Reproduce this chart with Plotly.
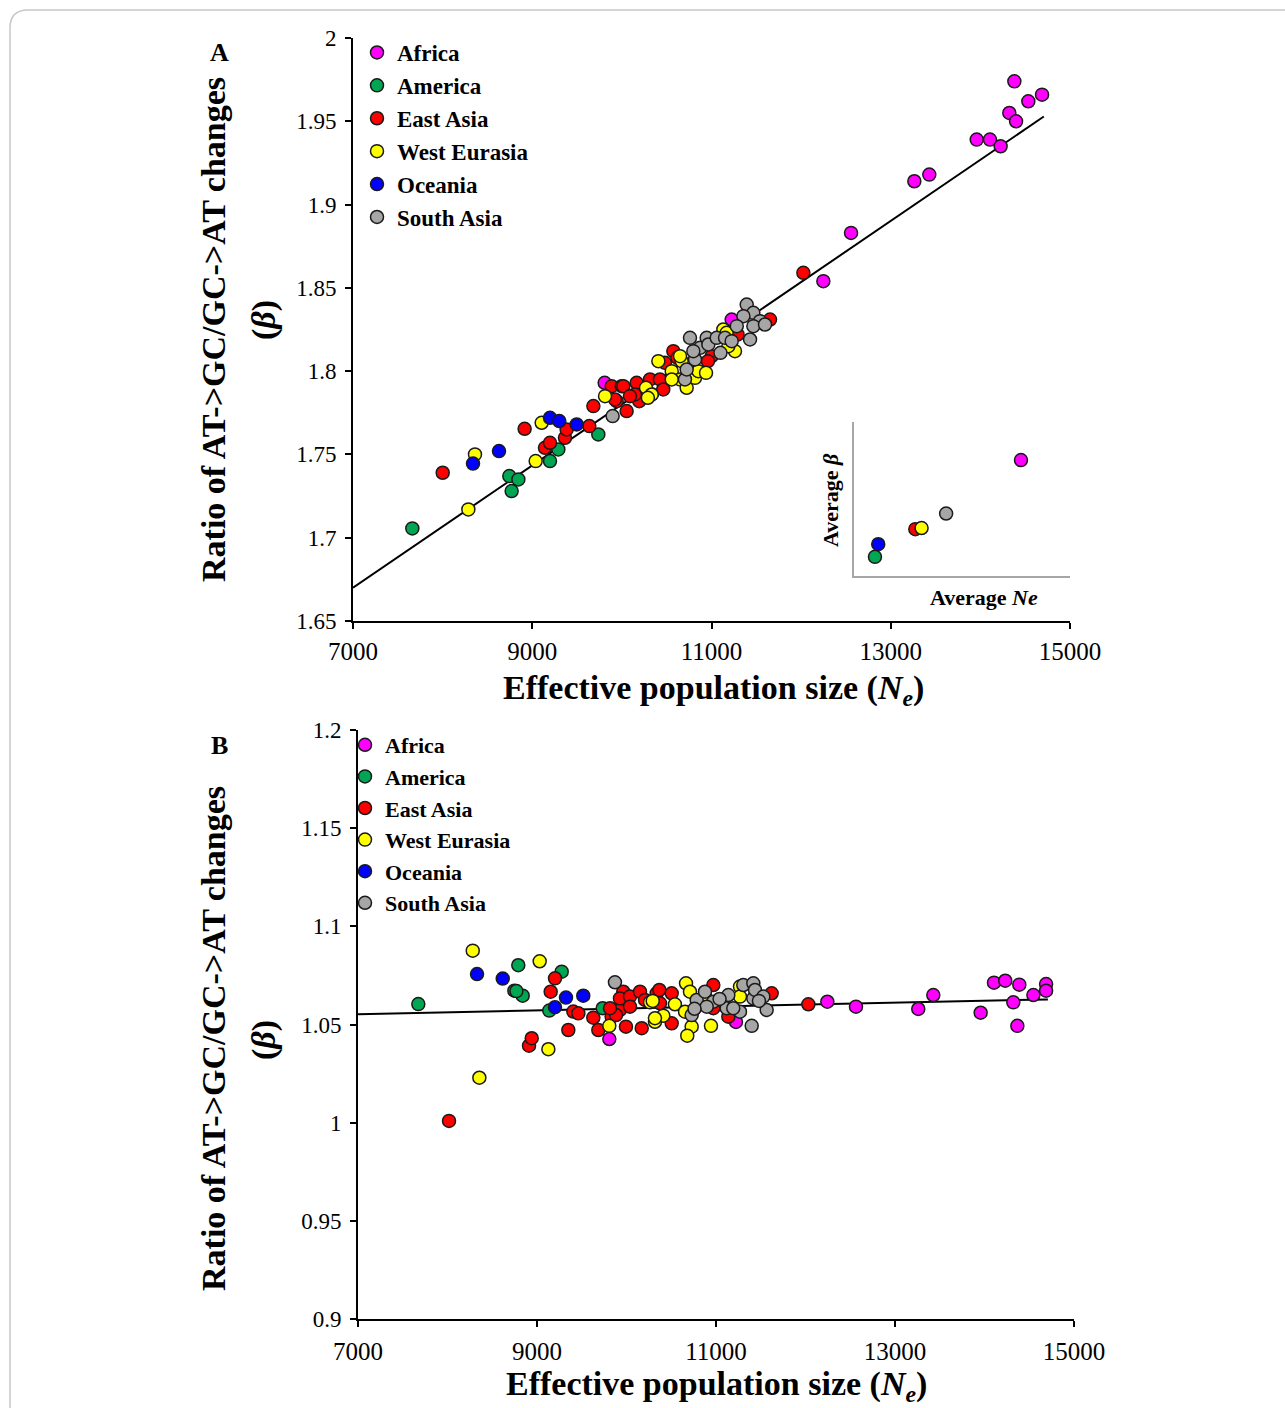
import numpy as np
import plotly.graph_objects as go

W, H = 1285, 1408

regions = ["Africa", "America", "East Asia", "West Eurasia", "Oceania", "South Asia"]
region_colors = ["#FF00FF", "#00A651", "#FF0000", "#FFFF00", "#0000FF", "#A6A6A6"]

# ---------------- Panel A: beta vs Ne ----------------
africa_ne_a = [14379, 14535, 14688, 14323, 14398, 13959, 14107, 14226, 13263, 13430, 12557, 12248, 9808, 11225]
africa_beta_a = [1.974, 1.962, 1.966, 1.955, 1.950, 1.939, 1.939, 1.935, 1.914, 1.918, 1.883, 1.854, 1.793, 1.831]

america_ne_a = [7662, 8744, 8845, 8770, 9198, 9291, 9737]
america_beta_a = [1.7056, 1.737, 1.735, 1.728, 1.746, 1.753, 1.762]

eastasia_ne_a = [8001, 8915, 9142, 9198, 9365, 9384, 9637, 9682, 9886, 9998, 9942, 10053, 10165, 10194, 10016,
                 10146, 10333, 10314, 10425, 10462, 10574, 10481, 11002, 11653, 12025, 9923, 10090, 10620, 11290, 10960]
eastasia_beta_a = [1.739, 1.7654, 1.754, 1.757, 1.760, 1.765, 1.767, 1.779, 1.791, 1.791, 1.782, 1.776, 1.793, 1.782, 1.791,
                   1.786, 1.786, 1.795, 1.795, 1.789, 1.812, 1.805, 1.809, 1.831, 1.859, 1.783, 1.785, 1.808, 1.822, 1.806]

westeurasia_ne_a = [8287, 8361, 9038, 9105, 9812, 10269, 10333, 10407, 10556, 10667, 10649, 10556, 10723, 10816, 10853,
                    10939, 10649, 11132, 11262, 11188, 11169, 10290]
westeurasia_beta_a = [1.717, 1.750, 1.746, 1.769, 1.785, 1.790, 1.786, 1.806, 1.800, 1.806, 1.795, 1.795, 1.790, 1.796, 1.800,
                      1.799, 1.809, 1.825, 1.812, 1.815, 1.823, 1.784]

oceania_ne_a = [8339, 8629, 9198, 9302, 9496]
oceania_beta_a = [1.7445, 1.752, 1.772, 1.770, 1.768]

southasia_ne_a = [9897, 10704, 10723, 10760, 10872, 10946, 10816, 10797, 10965, 11058, 11151, 11225, 11430, 11393, 11467,
                  11541, 11356, 11282, 11467, 11597, 11100]
southasia_beta_a = [1.773, 1.795, 1.801, 1.820, 1.814, 1.820, 1.807, 1.812, 1.816, 1.820, 1.820, 1.818, 1.819, 1.840, 1.835,
                    1.830, 1.833, 1.827, 1.827, 1.828, 1.811]

trend_a_intercept = 1.4131
trend_a_slope = 3.67e-5

# ---------------- Panel B ----------------
africa_ne_b = [12244, 12564, 13260, 13428, 13957, 14106, 14232, 14389, 14322, 14367, 14546, 14688, 14688, 9808, 11223]
africa_beta_b = [1.0616, 1.0591, 1.0579, 1.0650, 1.0560, 1.0713, 1.0723, 1.0703, 1.0613, 1.0493, 1.0650, 1.0706, 1.0672, 1.0426, 1.0513]

america_ne_b = [7674, 8791, 8747, 8840, 8770, 9276, 9137, 9734]
america_beta_b = [1.0604, 1.0802, 1.0672, 1.0647, 1.0670, 1.0769, 1.0571, 1.0583]

eastasia_ne_b = [8017, 8911, 8941, 9153, 9201, 9406, 9462, 9350, 9629, 9685, 9834, 9927, 10002, 9964, 9994, 9927, 10039,
                 10151, 10207, 10337, 10170, 9883, 9816, 10039, 10367, 10505, 10374, 10505, 10970, 10970, 11138, 11622, 12032]
eastasia_beta_b = [1.0009, 1.0392, 1.0430, 1.0667, 1.0735, 1.0566, 1.0557, 1.0472, 1.0535, 1.0472, 1.0540, 1.0574, 1.0625,
                   1.0667, 1.0489, 1.0633, 1.0642, 1.0667, 1.0625, 1.0659, 1.0481, 1.0548, 1.0583, 1.0591, 1.0676, 1.0659,
                   1.0608, 1.0506, 1.0701, 1.0583, 1.0540, 1.0659, 1.0603]

westeurasia_ne_b = [8282, 8356, 9030, 9127, 9808, 10263, 10318, 10293, 10411, 10318, 10541, 10665, 10709, 10654, 10728,
                    10679, 10944, 11268, 11268, 10880]
westeurasia_beta_b = [1.0876, 1.0229, 1.0822, 1.0374, 1.0493, 1.0613, 1.0514, 1.0620, 1.0545, 1.0532, 1.0603, 1.0710,
                      1.0667, 1.0565, 1.0489, 1.0443, 1.0493, 1.0693, 1.0642, 1.0640]

oceania_ne_b = [8330, 8617, 9201, 9324, 9517]
oceania_beta_b = [1.0757, 1.0734, 1.0588, 1.0637, 1.0647]

southasia_ne_b = [9871, 10784, 10728, 10877, 10970, 10896, 11138, 11119, 11305, 11417, 11417, 11436, 11268, 11193, 11529,
                  11566, 11399, 10760, 11040, 11480]
southasia_beta_b = [1.0715, 1.0625, 1.0548, 1.0667, 1.0616, 1.0591, 1.0650, 1.0583, 1.0701, 1.0710, 1.0633, 1.0676,
                    1.0565, 1.0583, 1.0642, 1.0574, 1.0493, 1.0580, 1.0630, 1.0620]

trend_b_intercept = 1.0483
trend_b_slope = 9.85e-7

x_ticks = [7000, 9000, 11000, 13000, 15000]

panel_a = [(africa_ne_a, africa_beta_a), (america_ne_a, america_beta_a), (eastasia_ne_a, eastasia_beta_a),
           (westeurasia_ne_a, westeurasia_beta_a), (oceania_ne_a, oceania_beta_a), (southasia_ne_a, southasia_beta_a)]
panel_b = [(africa_ne_b, africa_beta_b), (america_ne_b, america_beta_b), (eastasia_ne_b, eastasia_beta_b),
           (westeurasia_ne_b, westeurasia_beta_b), (oceania_ne_b, oceania_beta_b), (southasia_ne_b, southasia_beta_b)]


def pxx(p):
    return p / W


def pxy(p):
    return 1 - p / H


SERIF = "Liberation Serif"
MARKER_LINE = dict(color="#1a1a1a", width=1.5)

fig = go.Figure()

# trend lines (from regression coefficients)
all_a = np.concatenate([np.array(n) for n, _ in panel_a])
xa = np.array([x_ticks[0], all_a.max() + 20])
fig.add_trace(go.Scatter(x=xa, y=trend_a_intercept + trend_a_slope * xa, mode="lines",
                         line=dict(color="black", width=2), showlegend=False, xaxis="x", yaxis="y",
                         hoverinfo="skip"))
all_b = np.concatenate([np.array(n) for n, _ in panel_b])
xb = np.array([x_ticks[0], all_b.max() + 20])
fig.add_trace(go.Scatter(x=xb, y=trend_b_intercept + trend_b_slope * xb, mode="lines",
                         line=dict(color="black", width=2), showlegend=False, xaxis="x2", yaxis="y2",
                         hoverinfo="skip"))

for name, col, (ne, be) in zip(regions, region_colors, panel_a):
    fig.add_trace(go.Scatter(x=ne, y=be, mode="markers", name=name, legend="legend",
                             marker=dict(size=13, color=col, line=MARKER_LINE), xaxis="x", yaxis="y"))

for name, col, (ne, be) in zip(regions, region_colors, panel_b):
    fig.add_trace(go.Scatter(x=ne, y=be, mode="markers", name=name, legend="legend2",
                             marker=dict(size=13, color=col, line=MARKER_LINE), xaxis="x2", yaxis="y2"))

# inset: region averages of panel A
for name, col, (ne, be) in zip(regions, region_colors, panel_a):
    fig.add_trace(go.Scatter(x=[np.mean(ne)], y=[np.mean(be)], mode="markers", showlegend=False,
                             marker=dict(size=13, color=col, line=MARKER_LINE), xaxis="x3", yaxis="y3"))

axis_common = dict(showline=True, linecolor="black", linewidth=2, ticks="outside", ticklen=6, tickwidth=2,
                   tickcolor="black", showgrid=False, zeroline=False, automargin=False)
xtick_font = dict(family=SERIF, size=25, color="black")
ytick_font = dict(family=SERIF, size=23, color="black")

fig.update_layout(
    width=W, height=H, margin=dict(l=0, r=0, t=0, b=0, autoexpand=False),
    paper_bgcolor="white", plot_bgcolor="rgba(0,0,0,0)",
    xaxis=dict(domain=[pxx(353), pxx(1070)], anchor="y", range=[7000, 15000], tickvals=x_ticks,
               tickformat="d", ticklabelstandoff=1, tickfont=xtick_font, **axis_common),
    yaxis=dict(domain=[pxy(621), pxy(38)], anchor="x", range=[1.65, 2.0], dtick=0.05,
               ticklabelstandoff=4, tickfont=ytick_font, **axis_common),
    xaxis2=dict(domain=[pxx(358), pxx(1074)], anchor="y2", range=[7000, 15000], tickvals=x_ticks,
                tickformat="d", ticklabelstandoff=3, tickfont=xtick_font, **axis_common),
    yaxis2=dict(domain=[pxy(1319), pxy(730)], anchor="x2", range=[0.9, 1.2], dtick=0.05,
                ticklabelstandoff=4, tickfont=ytick_font, **axis_common),
    xaxis3=dict(domain=[pxx(854), pxx(1070)], anchor="y3", range=[8250, 14870], showline=True,
                linecolor="#A6A6A6", linewidth=2, showticklabels=False, ticks="", showgrid=False,
                zeroline=False, automargin=False),
    yaxis3=dict(domain=[pxy(576), pxy(422)], anchor="x3", range=[1.703, 1.985], showline=True,
                linecolor="#A6A6A6", linewidth=2, showticklabels=False, ticks="", showgrid=False,
                zeroline=False, automargin=False),
    legend=dict(x=pxx(357), y=pxy(31), xanchor="left", yanchor="top", bgcolor="rgba(0,0,0,0)",
                font=dict(family=SERIF, size=23, color="black", weight="bold"), tracegroupgap=0,
                itemclick=False),
    legend2=dict(x=pxx(345), y=pxy(724), xanchor="left", yanchor="top", bgcolor="rgba(0,0,0,0)",
                 font=dict(family=SERIF, size=22, color="black", weight="bold"), tracegroupgap=0,
                 itemclick=False),
    showlegend=True,
)

ann_font = dict(family=SERIF, size=34, color="black", weight="bold")
inset_font = dict(family=SERIF, size=22, color="black", weight="bold")
annotations = [
    dict(text="A", x=pxx(219), y=pxy(52), font=dict(family=SERIF, size=26, color="black", weight="bold")),
    dict(text="B", x=pxx(219), y=pxy(745), font=dict(family=SERIF, size=26, color="black", weight="bold")),
    dict(text="Effective population size (<i>N<sub>e</sub></i>)", x=pxx(713), y=pxy(690), font=ann_font),
    dict(text="Effective population size (<i>N<sub>e</sub></i>)", x=pxx(716), y=pxy(1386), font=ann_font),
    dict(text="Ratio of AT->GC/GC->AT changes", x=pxx(213), y=pxy(330), textangle=-90, font=ann_font),
    dict(text="(<i>β</i>)", x=pxx(264), y=pxy(320), textangle=-90, font=ann_font),
    dict(text="Ratio of AT->GC/GC->AT changes", x=pxx(213), y=pxy(1039), textangle=-90, font=ann_font),
    dict(text="(<i>β</i>)", x=pxx(264), y=pxy(1040), textangle=-90, font=ann_font),
    dict(text="Average <i>β</i>", x=pxx(830), y=pxy(500), textangle=-90, font=inset_font),
    dict(text="Average <i>Ne</i>", x=pxx(984), y=pxy(597), font=inset_font),
]
for a in annotations:
    a.update(xref="paper", yref="paper", showarrow=False, xanchor="center", yanchor="middle")
fig.update_layout(annotations=annotations)

# outer journal frame with rounded top-left corner
x0 = pxx(10)
yt = pxy(10)
rx, ry = 18 / W, 18 / H
fig.add_shape(type="path", xref="paper", yref="paper",
              path=f"M {x0},-0.02 L {x0},{yt - ry} Q {x0},{yt} {x0 + rx},{yt} L 1.02,{yt}",
              line=dict(color="#C8C8C8", width=1.5))

fig.write_html("out.html")
